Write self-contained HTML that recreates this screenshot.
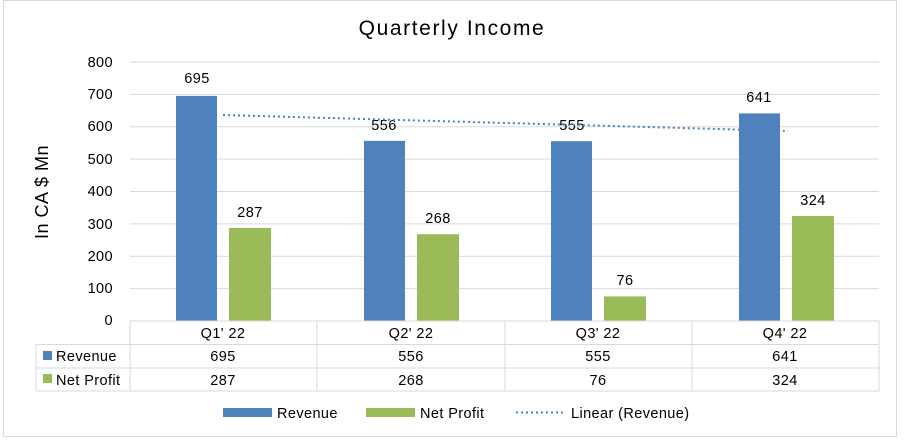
<!DOCTYPE html><html><head><style>body{margin:0;background:#fff}svg{display:block;font-family:"Liberation Sans",sans-serif}</style></head><body>
<svg width="904" height="440" viewBox="0 0 904 440">
<rect x="0" y="0" width="904" height="440" fill="#fff"/>
<rect x="3.5" y="0.5" width="893" height="436" fill="none" stroke="#d9d9d9"/>
<text x="452" y="35" font-size="21" letter-spacing="1.6" text-anchor="middle" fill="#000">Quarterly Income</text>
<text transform="translate(48,192) rotate(-90)" font-size="18" text-anchor="middle" letter-spacing="0.5">In CA $ Mn</text>
<g stroke="#d9d9d9" stroke-width="1">
<line x1="130" y1="62" x2="879" y2="62"/><line x1="130" y1="94.4" x2="879" y2="94.4"/><line x1="130" y1="126.8" x2="879" y2="126.8"/><line x1="130" y1="159.1" x2="879" y2="159.1"/><line x1="130" y1="191.5" x2="879" y2="191.5"/><line x1="130" y1="223.9" x2="879" y2="223.9"/><line x1="130" y1="256.3" x2="879" y2="256.3"/><line x1="130" y1="288.6" x2="879" y2="288.6"/>
</g>
<g font-size="14.5" text-anchor="end" fill="#000" letter-spacing="0.4">
<text x="113" y="67">800</text><text x="113" y="99">700</text><text x="113" y="131">600</text><text x="113" y="164">500</text><text x="113" y="196">400</text><text x="113" y="229">300</text><text x="113" y="261">200</text><text x="113" y="293">100</text><text x="113" y="325">0</text>
</g>
<g fill="#4f81bd">
<rect x="176" y="95.9" width="41" height="225.1"/><rect x="364" y="140.9" width="41" height="180.1"/><rect x="551" y="141.2" width="41" height="179.8"/><rect x="739" y="113.4" width="41" height="207.6"/>
</g>
<g fill="#9bbb59">
<rect x="229" y="228" width="42" height="93"/><rect x="417" y="234.2" width="42" height="86.8"/><rect x="604" y="296.4" width="42" height="24.6"/><rect x="792" y="216" width="42" height="105"/>
</g>
<g font-size="14.5" text-anchor="middle" fill="#000" letter-spacing="0.4">
<text x="197" y="83">695</text><text x="384" y="130">556</text><text x="572" y="130">555</text><text x="759" y="102">641</text>
<text x="250" y="217">287</text><text x="438" y="223">268</text><text x="625" y="285">76</text><text x="813" y="205">324</text>
</g>
<line x1="223" y1="115" x2="788" y2="131" stroke="#4f81bd" stroke-width="2" stroke-dasharray="2,3"/>
<g stroke="#d9d9d9" fill="none">
<line x1="130" y1="321" x2="879" y2="321"/><line x1="36" y1="344.5" x2="879" y2="344.5"/><line x1="36" y1="368" x2="879" y2="368"/><line x1="36" y1="391" x2="879" y2="391"/>
<line x1="36" y1="344.5" x2="36" y2="391"/><line x1="130" y1="321" x2="130" y2="391"/><line x1="317" y1="321" x2="317" y2="391"/><line x1="505" y1="321" x2="505" y2="391"/><line x1="692" y1="321" x2="692" y2="391"/><line x1="879" y1="321" x2="879" y2="391"/>
</g>
<g font-size="14.5" text-anchor="middle" fill="#000" letter-spacing="0.4">
<text x="223" y="338">Q1' 22</text><text x="411" y="338">Q2' 22</text><text x="598" y="338">Q3' 22</text><text x="785" y="338">Q4' 22</text>
<text x="223" y="361">695</text><text x="411" y="361">556</text><text x="598" y="361">555</text><text x="785" y="361">641</text>
<text x="223" y="385">287</text><text x="411" y="385">268</text><text x="598" y="385">76</text><text x="785" y="385">324</text>
</g>
<g font-size="14.5" letter-spacing="0.4">
<rect x="43" y="351" width="9" height="9" fill="#4f81bd"/><text x="56" y="361">Revenue</text>
<rect x="43" y="374" width="9" height="9" fill="#9bbb59"/><text x="56" y="385">Net Profit</text>
<rect x="223" y="408" width="49" height="9" fill="#4f81bd"/><text x="277" y="418">Revenue</text>
<rect x="366" y="408" width="49" height="9" fill="#9bbb59"/><text x="420" y="418">Net Profit</text>
<line x1="516" y1="412.5" x2="565" y2="412.5" stroke="#4f81bd" stroke-width="2" stroke-dasharray="2,3"/><text x="571" y="418">Linear (Revenue)</text>
</g>
</svg></body></html>
